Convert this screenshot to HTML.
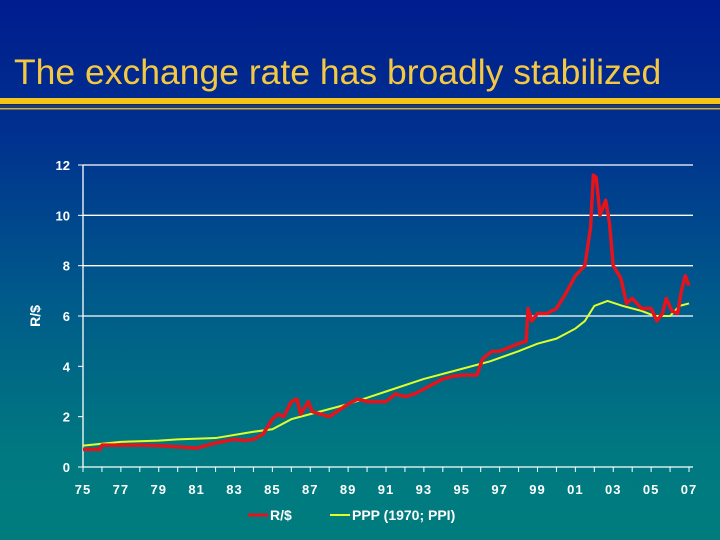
<!DOCTYPE html>
<html><head><meta charset="utf-8"><style>
body{margin:0;width:720px;height:540px;overflow:hidden;background:linear-gradient(#001c8e 0%,#00318f 25%,#005a8a 55%,#007a80 85%,#007c7e 100%);font-family:"Liberation Sans",sans-serif}
#title{position:absolute;left:14px;top:52px;font-size:35.5px;color:#f5c842;white-space:nowrap}
</style></head><body>
<div id="title">The exchange rate has broadly stabilized</div>
<svg id="c" width="720" height="540" style="position:absolute;left:0;top:0">
<rect x="0" y="98" width="720" height="6" fill="#f5c518"/>
<rect x="0" y="105" width="720" height="3" fill="#2a3a5a"/>
<rect x="0" y="108" width="720" height="1.5" fill="#c9b04a"/>
</svg>
<script>
const yTicks=[0,2,4,6,8,10,12];
const gridTicks=[6,8,10,12];
const xTicks=["75","77","79","81","83","85","87","89","91","93","95","97","99","01","03","05","07"];
const rYears=[1975,1975.9,1976,1977,1978,1979,1980,1981,1981.5,1982,1983,1983.5,1984,1984.5,1985,1985.3,1985.6,1986,1986.3,1986.5,1986.9,1987.1,1988,1988.6,1989,1989.5,1990,1991,1991.5,1992,1992.5,1993,1993.5,1994,1994.5,1995,1995.8,1996.1,1996.6,1997,1998,1998.4,1998.5,1998.7,1999,1999.5,2000,2000.5,2001,2001.5,2001.8,2001.95,2002.1,2002.3,2002.6,2002.8,2003,2003.4,2003.7,2004,2004.5,2005,2005.3,2005.6,2005.8,2006.1,2006.4,2006.6,2006.8,2007];
const rValues=[0.7,0.7,0.87,0.87,0.87,0.85,0.8,0.75,0.85,0.95,1.1,1.05,1.1,1.3,1.9,2.1,2.0,2.6,2.7,2.1,2.6,2.2,2.0,2.3,2.5,2.7,2.6,2.6,2.9,2.8,2.9,3.1,3.3,3.5,3.6,3.65,3.65,4.3,4.6,4.6,4.9,5.0,6.3,5.8,6.1,6.1,6.3,6.9,7.6,8.0,9.5,11.6,11.5,10.0,10.6,9.7,8.0,7.5,6.5,6.7,6.3,6.3,5.8,6.1,6.7,6.2,6.1,7.0,7.6,7.2];
const pYears=[1975,1977,1979,1980,1982,1984,1985,1986,1987,1989,1991,1993,1995,1996.5,1998,1999,2000,2001,2001.5,2002,2002.7,2003.5,2004.5,2005.2,2006,2006.5,2007];
const pValues=[0.85,1.0,1.05,1.1,1.15,1.4,1.5,1.9,2.1,2.5,3.0,3.5,3.9,4.2,4.6,4.9,5.1,5.5,5.8,6.4,6.6,6.4,6.2,6.0,6.0,6.4,6.5];
const svg=document.getElementById('c'),NS='http://www.w3.org/2000/svg';
const X=yr=>83+(yr-1975)*(606/32), Y=v=>467-v*(302/12);
function mk(t,a,p){const e=document.createElementNS(NS,t);for(const k in a)e.setAttribute(k,a[k]);(p||svg).appendChild(e);return e;}
gridTicks.forEach(v=>{
 const g=mk('line',{x1:83,x2:693,y1:Y(v),y2:Y(v),stroke:'#fff','stroke-width':1.3});
 
 
});
yTicks.forEach(v=>{
 mk('line',{x1:78,x2:83,y1:Y(v),y2:Y(v),stroke:'#fff'});
 const t=mk('text',{x:70,y:Y(v)+5,'text-anchor':'end',fill:'#fff','font-size':13,'font-weight':'bold'});t.textContent=v;
 
 
});
mk('line',{x1:83,x2:83,y1:Y(12),y2:Y(0),stroke:'#fff','stroke-width':1.3});
mk('line',{x1:83,x2:693,y1:Y(0),y2:Y(0),stroke:'#fff','stroke-width':1.3});
xTicks.forEach((l,i)=>{
 const x=X(1975+i*2);
 mk('line',{x1:x,x2:x,y1:467,y2:472,stroke:'#fff'});
 if(i<xTicks.length-1) mk('line',{x1:X(1976+i*2),x2:X(1976+i*2),y1:467,y2:472,stroke:'#fff'});
 const t=mk('text',{x:x,y:494,'text-anchor':'middle',fill:'#fff','font-size':13,'font-weight':'bold','letter-spacing':'1'});t.textContent=l;
 
 
});
const yl=mk('text',{x:0,y:0,transform:'translate(40,316) rotate(-90)','text-anchor':'middle',fill:'#fff','font-size':14,'font-weight':'bold'});yl.textContent='R/$';


const pp=mk('polyline',{points:pYears.map((y,i)=>X(y)+','+Y(pValues[i])).join(' '),fill:'none',stroke:'#e0ff2a','stroke-width':2});


const rp=mk('polyline',{points:rYears.map((y,i)=>X(y)+','+Y(rValues[i])).join(' '),fill:'none',stroke:'#e5131b','stroke-width':3.5,'stroke-linejoin':'round'});


const l1=mk('g',{});
mk('line',{x1:248,x2:268,y1:515,y2:515,stroke:'#e5131b','stroke-width':3},l1);
let t=mk('text',{x:270,y:520,fill:'#fff','font-size':14,'font-weight':'bold'},l1);t.textContent='R/$';
const l2=mk('g',{});
mk('line',{x1:330,x2:350,y1:515,y2:515,stroke:'#e0ff2a','stroke-width':2},l2);
t=mk('text',{x:352,y:520,fill:'#fff','font-size':14,'font-weight':'bold'},l2);t.textContent='PPP (1970; PPI)';
</script>
</body></html>
